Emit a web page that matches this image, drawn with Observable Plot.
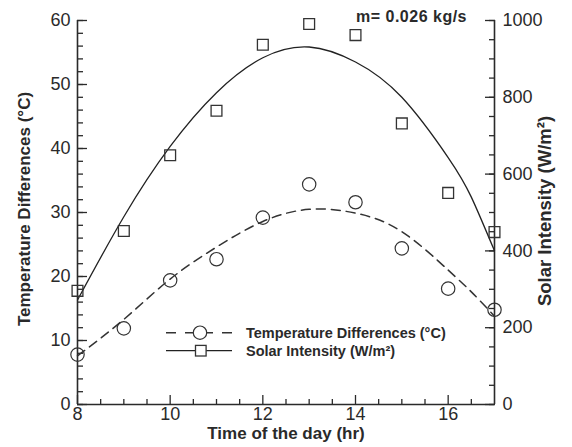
<!DOCTYPE html>
<html><head><meta charset="utf-8">
<script src="https://cdn.jsdelivr.net/npm/d3@7"></script>
<script src="https://cdn.jsdelivr.net/npm/@observablehq/plot@0.6"></script>
<style>
html,body{margin:0;padding:0;background:#fff;}
#chart{width:572px;height:447px;}
</style></head><body><div id="chart"></div>
<script>
// ---- data ----
const hours = [8, 9, 10, 11, 12, 13, 14, 15, 16, 17];
const tempDiff = [7.8, 11.9, 19.4, 22.7, 29.2, 34.4, 31.6, 24.4, 18.1, 14.8];
const solar = [296, 452, 649, 765, 937, 991, 962, 732, 551, 449];
const fitHours = [8, 9, 10, 11, 12, 13, 14, 15, 16, 16.5, 17];
const tempFit = [7.6, 13.3, 19.6, 24.6, 28.6, 30.5, 29.9, 27.0, 21.0, 17.6, 13.8];
const solarFit = [272, 489, 672, 812, 903, 931, 892, 800, 643, 540, 400];
const xMajorTicks = [8, 10, 12, 14, 16];
const xMinorTicks = [8.5, 9, 9.5, 10.5, 11, 11.5, 12.5, 13, 13.5, 14.5, 15, 15.5, 16.5];
const tempTicks = [0, 10, 20, 30, 40, 50, 60];
const tempMinorTicks = d3.range(0, 61, 2);
const solarTicks = [0, 200, 400, 600, 800, 1000];
const solarMinorTicks = d3.range(0, 1001, 50);
const tempDomain = [0, 60];
const solarDomain = [0, 1000];
const xDomain = [8, 17];
const seriesNames = ["Temperature Differences (°C)", "Solar Intensity (W/m²)"];
const xTitle = "Time of the day (hr)";
const yTitle = "Temperature Differences (°C)";
const y2Title = "Solar Intensity (W/m²)";
const note = "m= 0.026 kg/s";

// ---- helpers ----
const toT = s => s * tempDomain[1] / solarDomain[1];
const toS = t => t * solarDomain[1] / tempDomain[1];
const ptsT = hours.map((h, i) => ({h, v: tempDiff[i]}));
const ptsS = hours.map((h, i) => ({h, v: toT(solar[i])}));
const fitT = fitHours.map((h, i) => ({h, v: tempFit[i]}));
const fitS = fitHours.map((h, i) => ({h, v: toT(solarFit[i])}));
const ink = "#2a2a2a";
const font = "'Liberation Sans', Arial, Helvetica, sans-serif";

const plot = Plot.plot({
  width: 572, height: 447,
  marginLeft: 77, marginRight: 78, marginTop: 20, marginBottom: 43,
  x: {domain: xDomain},
  y: {domain: tempDomain},
  style: {fontFamily: font, fontSize: "18px", color: ink, background: "white"},
  marks: [
    Plot.axisX(xMajorTicks, {tickSize: 0, tickPadding: 3, label: null, fontSize: 18}),
    Plot.axisX(xMajorTicks, {tickSize: -9, fill: "none", label: null, strokeWidth: 1.3}),
    Plot.axisX(xMinorTicks, {tickSize: -5, fill: "none", label: null, strokeWidth: 1.3}),
    Plot.axisY(tempTicks, {tickSize: 0, tickPadding: 7, label: null, fontSize: 18}),
    Plot.axisY(tempTicks, {tickSize: -10, fill: "none", label: null, strokeWidth: 1.3}),
    Plot.axisY(tempMinorTicks, {tickSize: -6, fill: "none", label: null, strokeWidth: 1.3}),
    Plot.axisY(solarTicks.map(toT), {anchor: "right", tickSize: 0, tickPadding: 8, label: null, fontSize: 18,
      tickFormat: d => String(Math.round(toS(d)))}),
    Plot.axisY(solarTicks.map(toT), {anchor: "right", tickSize: -10, fill: "none", label: null, strokeWidth: 1.3}),
    Plot.axisY(solarMinorTicks.map(toT), {anchor: "right", tickSize: -6, fill: "none", label: null, strokeWidth: 1.3}),
    Plot.ruleX(xDomain, {stroke: ink, strokeWidth: 1.6}),
    Plot.ruleY([tempDomain[0]], {stroke: ink, strokeWidth: 1.6}),
    Plot.line(fitS, {x: "h", y: "v", curve: "natural", stroke: "#222", strokeWidth: 1.3}),
    Plot.line(fitT, {x: "h", y: "v", curve: "natural", stroke: "#333", strokeWidth: 1.5, strokeDasharray: "9,6"}),
    Plot.dot(ptsT, {x: "h", y: "v", r: 6.7, stroke: "#333", strokeWidth: 1.2, fill: "none"}),
    Plot.dot(ptsS, {x: "h", y: "v", symbol: "square", r: 6.1, stroke: "#333", strokeWidth: 1.3, fill: "none"})
  ]
});

const svg = d3.select(plot);
const bold = (sel, size, anchor = "start") => sel.attr("font-family", font).attr("font-weight", "bold")
  .attr("font-size", size).attr("fill", ink).attr("text-anchor", anchor);

// axis titles
bold(svg.append("text").attr("x", 286).attr("y", 439).text(xTitle), 17, "middle");
bold(svg.append("text").attr("transform", "translate(29.5,209) rotate(-90)").text(yTitle), 17, "middle");
bold(svg.append("text").attr("transform", "translate(551,211) rotate(-90)").text(y2Title), 18.5, "middle");
// annotation
bold(svg.append("text").attr("x", 356).attr("y", 22).attr("letter-spacing", "0.5").text(note), 16);

// legend
const lg = svg.append("g");
const ly1 = 332.7, ly2 = 350.7;
lg.append("line").attr("x1", 166).attr("x2", 200).attr("y1", ly1).attr("y2", ly1)
  .attr("stroke", "#333").attr("stroke-width", 1.5).attr("stroke-dasharray", "10,9");
lg.append("line").attr("x1", 232).attr("x2", 200).attr("y1", ly1).attr("y2", ly1)
  .attr("stroke", "#333").attr("stroke-width", 1.5).attr("stroke-dasharray", "10,9");
lg.append("circle").attr("cx", 200).attr("cy", ly1).attr("r", 6.7)
  .attr("fill", "white").attr("stroke", "#333").attr("stroke-width", 1.2);
lg.append("line").attr("x1", 166).attr("x2", 232).attr("y1", ly2).attr("y2", ly2)
  .attr("stroke", "#222").attr("stroke-width", 1.3);
lg.append("rect").attr("x", 195.5).attr("y", ly2 - 5.3).attr("width", 10.6).attr("height", 10.6)
  .attr("fill", "white").attr("stroke", "#333").attr("stroke-width", 1.3);
bold(lg.append("text").attr("x", 246).attr("y", ly1 + 5).text(seriesNames[0]), 14.5);
bold(lg.append("text").attr("x", 246).attr("y", ly2 + 5).text(seriesNames[1]), 14.5);

document.getElementById("chart").appendChild(plot);
</script></body></html>
